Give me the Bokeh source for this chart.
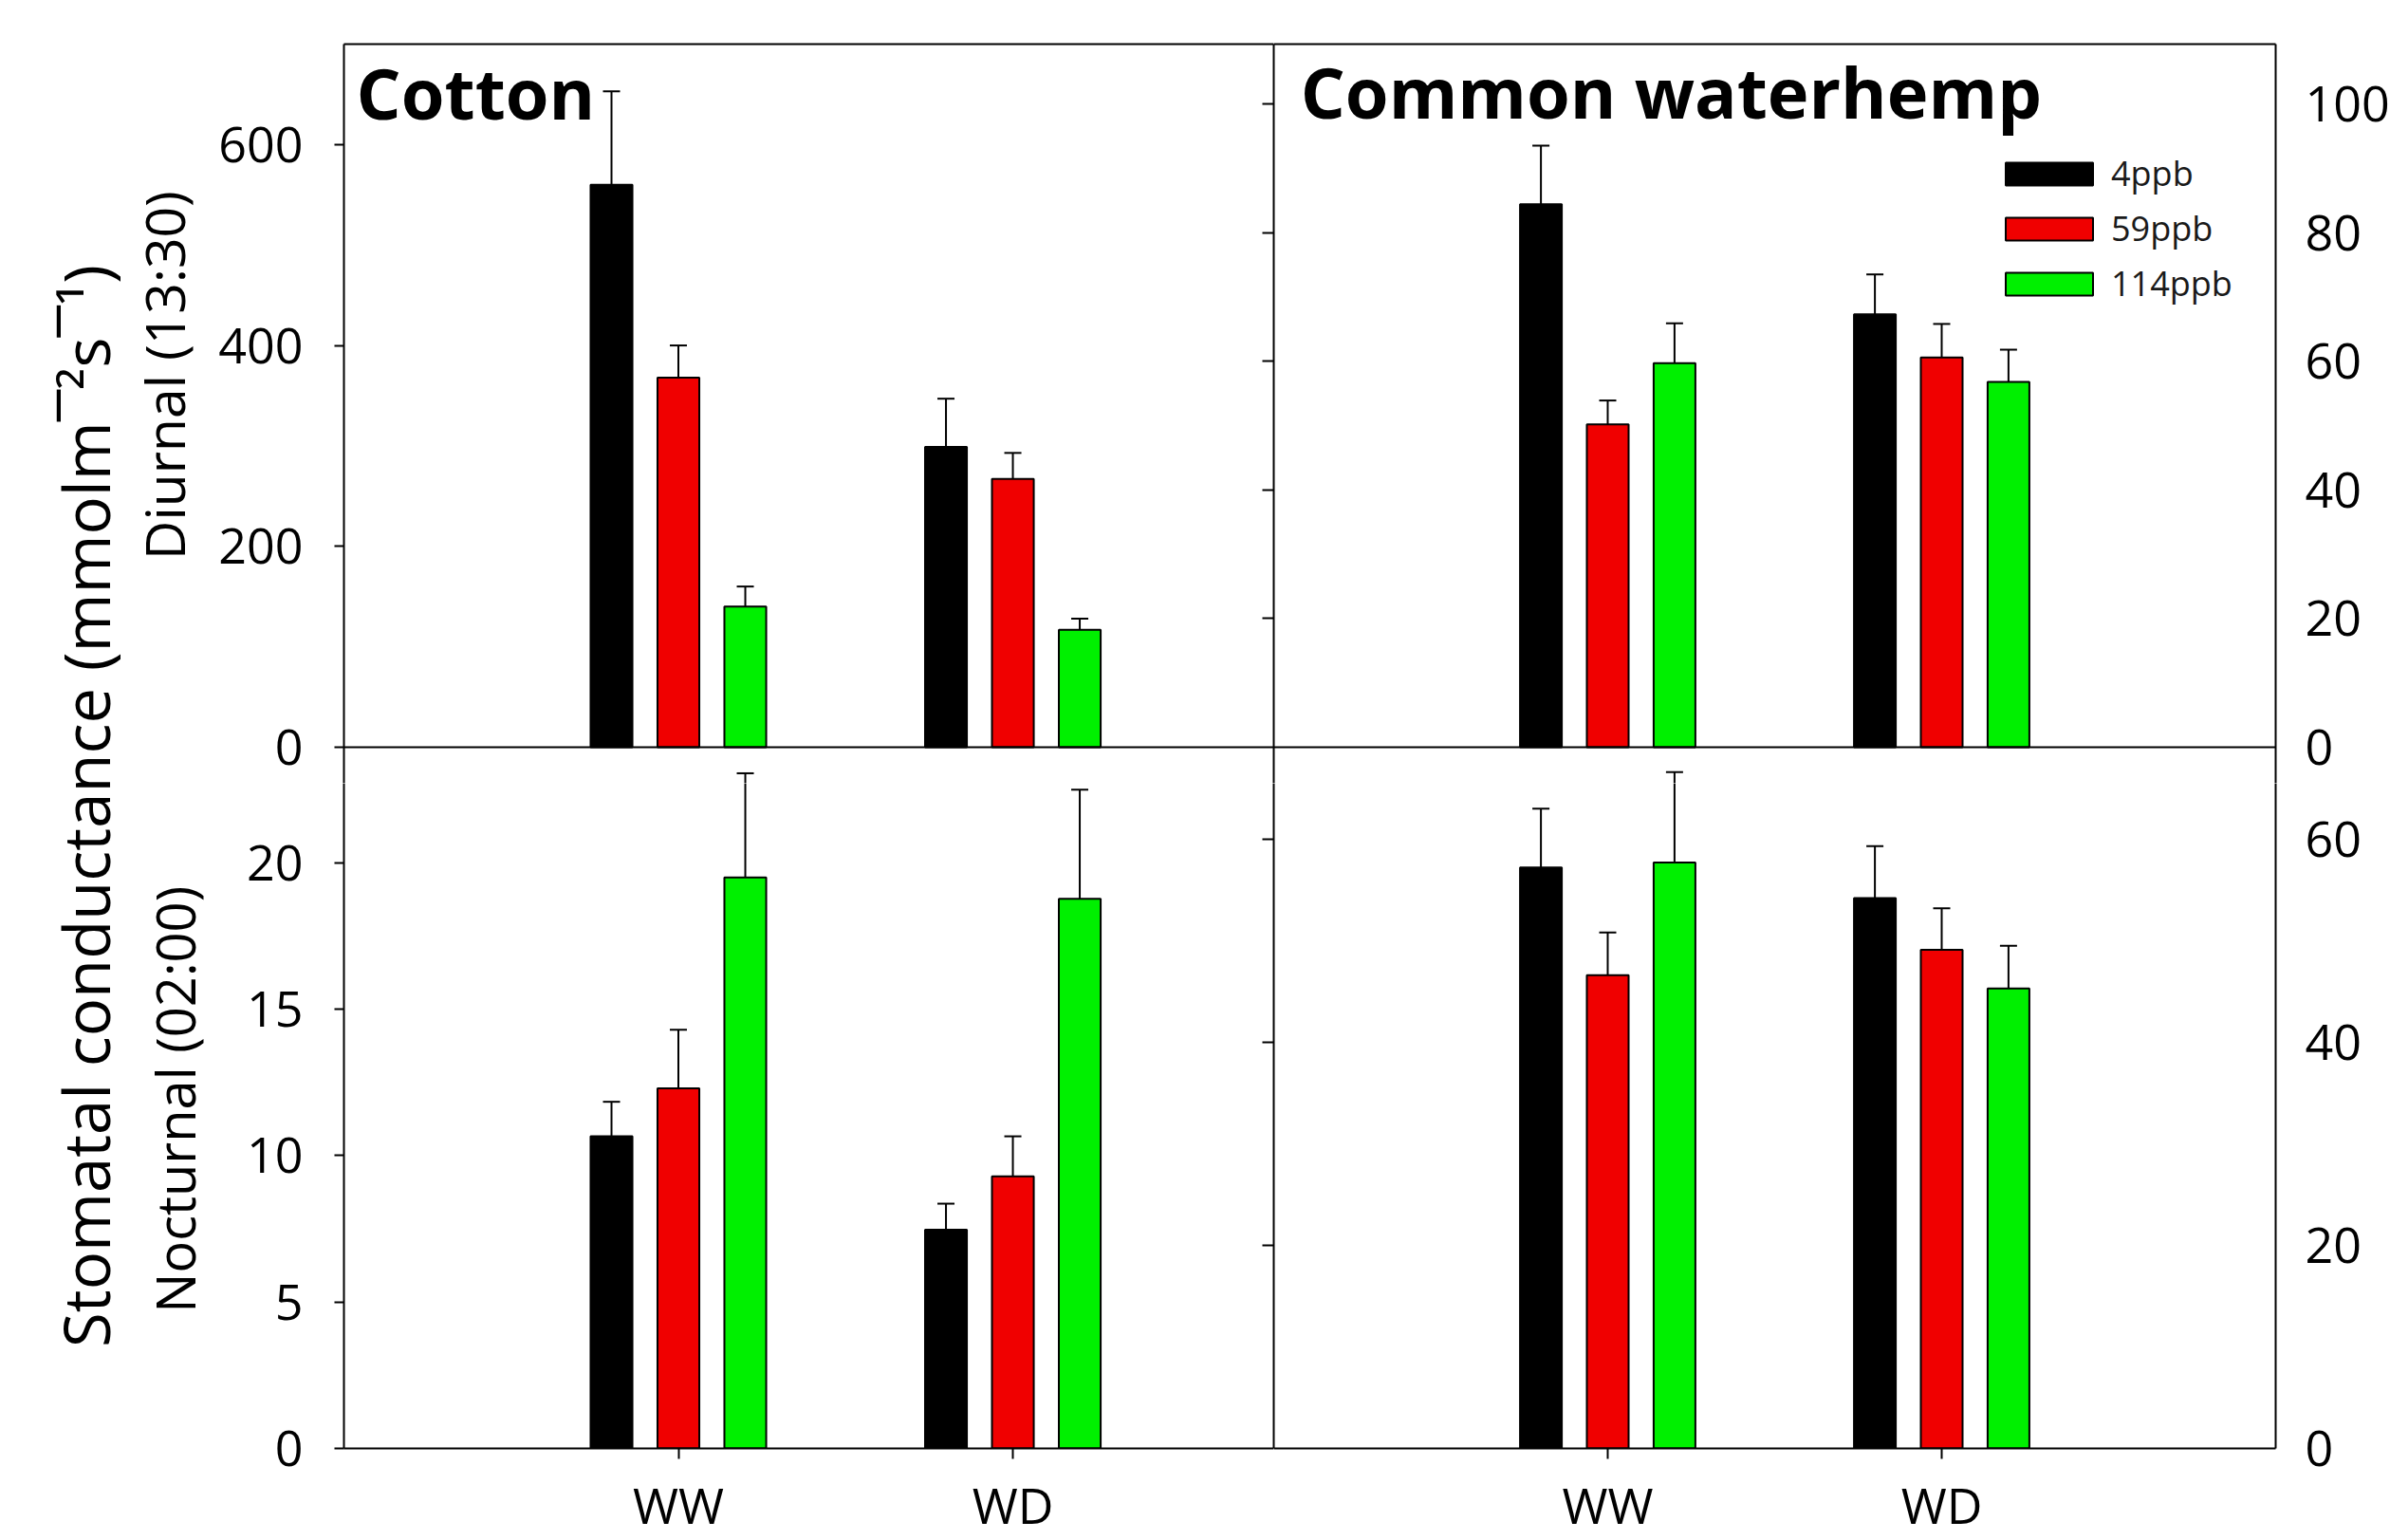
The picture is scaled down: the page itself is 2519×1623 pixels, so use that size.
import math
from bokeh.plotting import figure
from bokeh.models import (Range1d, LinearAxis, FixedTicker, Span, Whisker, TeeHead,
                          ColumnDataSource, Label, Legend, LegendItem)
from bokeh.layouts import row, column
from bokeh.embed import file_html
from bokeh.resources import INLINE

# ---------------- data ----------------
groups = ["WW", "WD"]
series_names = ["4ppb", "59ppb", "114ppb"]
series_colors = ["#000000", "#F00000", "#00F000"]

cotton_day_4 = [560, 299]
cotton_day_59 = [368, 267]
cotton_day_114 = [140, 117]
cotton_day_4_se = [93, 48]
cotton_day_59_se = [32, 26]
cotton_day_114_se = [20, 11]

hemp_day_4 = [84.4, 67.3]
hemp_day_59 = [50.2, 60.6]
hemp_day_114 = [59.7, 56.8]
hemp_day_4_se = [9.1, 6.2]
hemp_day_59_se = [3.7, 5.2]
hemp_day_114_se = [6.2, 5.0]

cotton_night_4 = [10.66, 7.47]
cotton_night_59 = [12.3, 9.29]
cotton_night_114 = [19.5, 18.77]
cotton_night_4_se = [1.18, 0.89]
cotton_night_59_se = [2.0, 1.37]
cotton_night_114_se = [3.56, 3.73]

hemp_night_4 = [57.2, 54.2]
hemp_night_59 = [46.6, 49.1]
hemp_night_114 = [57.7, 45.3]
hemp_night_4_se = [5.8, 5.1]
hemp_night_59_se = [4.2, 4.1]
hemp_night_114_se = [8.9, 4.2]

cotton_day_ticks = [0, 200, 400, 600]
cotton_night_ticks = [0, 5, 10, 15, 20]
hemp_day_ticks = [0, 20, 40, 60, 80, 100]
hemp_night_ticks = [0, 20, 40, 60]

# axis maxima (value at the top edge of each panel)
cotton_day_max = 700
hemp_day_max = 109.3
cotton_night_max = 23.95
hemp_night_max = 69.05

# ---------------- layout / style ----------------
FONT = "Open Sans"
TICK_FS = "52px"
TITLE_W = 223
LEFT_BORDER = 139
RIGHT_BORDER = 121
TOP_BORDER = 46
BOTTOM_BORDER = 97
LEFT_FRAME_W = 980
RIGHT_FRAME_W = 1056
TOP_PANEL_H = 741        # visual height of the diurnal panels
BOTTOM_PANEL_H = 739     # visual height of the nocturnal panels
EXT = 38                 # top canvases reach this far below the divider (room for the "0" labels)
TOP_FRAME_H = TOP_PANEL_H + EXT
BOTTOM_FRAME_H = BOTTOM_PANEL_H - EXT
TOTAL_H = TOP_BORDER + TOP_FRAME_H + BOTTOM_FRAME_H + BOTTOM_BORDER

group_x = [1, 2]
offsets = [-0.2, 0.0, 0.2]
BAR_W = 0.125

x_left = Range1d(0, 2.78)
x_right = Range1d(0, 3.0)


def day_range(vmax):
    k = TOP_PANEL_H / vmax
    return Range1d(-EXT / k, vmax)


def night_ranges(vmax):
    k = BOTTOM_PANEL_H / vmax
    bottom = Range1d(0, (BOTTOM_PANEL_H - EXT) / k)
    upper = Range1d((BOTTOM_PANEL_H - EXT) / k, (BOTTOM_PANEL_H + TOP_PANEL_H) / k)
    return bottom, upper


cot_day_range = day_range(cotton_day_max)
hemp_day_range = day_range(hemp_day_max)
cot_night_range, cot_night_upper = night_ranges(cotton_night_max)
hemp_night_range, hemp_night_upper = night_ranges(hemp_night_max)


def make_fig(fw, fh, bl, br, bt, bb, xr, yr):
    p = figure(frame_width=fw, frame_height=fh, min_border_left=bl, min_border_right=br,
               min_border_top=bt, min_border_bottom=bb, x_range=xr, y_range=yr,
               x_axis_location=None, y_axis_location=None, toolbar_location=None,
               output_backend="svg", outline_line_color=None)
    p.xgrid.visible = False
    p.ygrid.visible = False
    p.background_fill_color = "white"
    p.border_fill_color = "white"
    return p


def add_y_axis(p, side, ticks, range_name="default", show_labels=True,
               tick_in=0, tick_out=10, standoff=33):
    ax = LinearAxis(y_range_name=range_name, ticker=FixedTicker(ticks=ticks),
                    axis_line_color="black", axis_line_width=2,
                    major_tick_line_color="black" if (tick_in or tick_out) else None,
                    major_tick_line_width=2,
                    major_tick_in=tick_in, major_tick_out=tick_out,
                    minor_tick_line_color=None,
                    major_label_standoff=standoff,
                    major_label_text_font=FONT, major_label_text_font_size=TICK_FS,
                    major_label_text_color="black")
    if not show_labels:
        ax.major_label_overrides = {t: "" for t in ticks}
    p.add_layout(ax, side)
    return ax


def add_line_axis(p, side):
    ax = LinearAxis(ticker=FixedTicker(ticks=[]), axis_line_color="black", axis_line_width=2,
                    major_tick_line_color=None, minor_tick_line_color=None,
                    major_tick_in=0, major_tick_out=0, major_label_standoff=0,
                    major_label_text_font_size="0px")
    p.add_layout(ax, side)


def add_x_axis(p):
    ax = LinearAxis(ticker=FixedTicker(ticks=group_x),
                    major_label_overrides={g: lab for g, lab in zip(group_x, groups)},
                    axis_line_color="black", axis_line_width=2,
                    major_tick_line_color="black", major_tick_line_width=2,
                    major_tick_in=0, major_tick_out=11, minor_tick_line_color=None,
                    major_label_standoff=12,
                    major_label_text_font=FONT, major_label_text_font_size=TICK_FS,
                    major_label_text_color="black")
    p.add_layout(ax, "below")


def add_whiskers(p, vals, errs, range_name="default"):
    for i in range(3):
        xs = [g + offsets[i] for g in group_x]
        uppers = [v + e for v, e in zip(vals[i], errs[i])]
        src = ColumnDataSource(dict(x=xs, top=vals[i], upper=uppers))
        w = Whisker(source=src, base="x", lower="top", upper="upper", dimension="height",
                    y_range_name=range_name,
                    line_color="black", line_width=2,
                    upper_head=TeeHead(size=18, line_color="black", line_width=2),
                    lower_head=None)
        p.add_layout(w)


def draw_bars(p, vals, errs):
    add_whiskers(p, vals, errs)
    rends = []
    for i in range(3):
        xs = [g + offsets[i] for g in group_x]
        src = ColumnDataSource(dict(x=xs, top=vals[i]))
        r = p.vbar(x="x", top="top", bottom=0, width=BAR_W, source=src,
                   fill_color=series_colors[i], line_color="black", line_width=2)
        rends.append(r)
    return rends


def divider(p):
    p.add_layout(Span(location=0, dimension="width", line_color="black", line_width=2))


def vlabel(p, x, y, text, size):
    p.add_layout(Label(x=x, y=y, text=text, angle=math.pi / 2, text_align="center",
                       text_baseline="alphabetic", text_font=FONT,
                       text_font_size=size, text_color="black"))


# ---------------- title column ----------------
tf = figure(width=TITLE_W, height=TOTAL_H,
            x_range=Range1d(0, TITLE_W), y_range=Range1d(0, TOTAL_H),
            min_border=0, x_axis_location=None, y_axis_location=None,
            toolbar_location=None, output_backend="svg", outline_line_color=None)
tf.xgrid.visible = False
tf.ygrid.visible = False
vlabel(tf, 89, 774, "Stomatal conductance (mmolm\u00af\u00b2s\u00af\u00b9)", "67px")
vlabel(tf, 172, 1228, "Diurnal (13:30)", "57px")
vlabel(tf, 183, 472, "Nocturnal  (02:00)", "56px")

cot_night_vals = [cotton_night_4, cotton_night_59, cotton_night_114]
cot_night_errs = [cotton_night_4_se, cotton_night_59_se, cotton_night_114_se]
hemp_night_vals = [hemp_night_4, hemp_night_59, hemp_night_114]
hemp_night_errs = [hemp_night_4_se, hemp_night_59_se, hemp_night_114_se]

# ---------------- top left: cotton diurnal ----------------
tl = make_fig(LEFT_FRAME_W, TOP_FRAME_H, LEFT_BORDER, 0, TOP_BORDER, 0, x_left, cot_day_range)
tl.extra_y_ranges = {"hemp": hemp_day_range, "night": cot_night_upper}
draw_bars(tl, [cotton_day_4, cotton_day_59, cotton_day_114],
          [cotton_day_4_se, cotton_day_59_se, cotton_day_114_se])
add_whiskers(tl, cot_night_vals, cot_night_errs, "night")   # tips of the nocturnal error bars
add_y_axis(tl, "left", cotton_day_ticks)
add_y_axis(tl, "right", hemp_day_ticks[1:], "hemp", show_labels=False, tick_in=12, tick_out=0, standoff=0)
add_line_axis(tl, "above")
divider(tl)
tl.add_layout(Label(x=0.037, y=652, text="Cotton", text_font=FONT, text_font_style="bold",
                    text_font_size="74px", text_color="black", text_baseline="alphabetic"))

# ---------------- top right: waterhemp diurnal ----------------
tr = make_fig(RIGHT_FRAME_W, TOP_FRAME_H, 0, RIGHT_BORDER, TOP_BORDER, 0, x_right, hemp_day_range)
tr.extra_y_ranges = {"night": hemp_night_upper}
rends = draw_bars(tr, [hemp_day_4, hemp_day_59, hemp_day_114],
                  [hemp_day_4_se, hemp_day_59_se, hemp_day_114_se])
add_whiskers(tr, hemp_night_vals, hemp_night_errs, "night")
add_y_axis(tr, "right", hemp_day_ticks, tick_out=0, standoff=31)
add_line_axis(tr, "left")
add_line_axis(tr, "above")
divider(tr)
tr.add_layout(Label(x=0.08, y=101.9, text="Common waterhemp", text_font=FONT, text_font_style="bold",
                    text_font_size="74px", text_color="black", text_baseline="alphabetic"))
legend = Legend(items=[LegendItem(label=n, renderers=[r]) for n, r in zip(series_names, rends)],
                location=(760, 484 + EXT - 20), orientation="vertical",
                glyph_width=115, glyph_height=30, label_standoff=8, spacing=9,
                padding=0, margin=0, border_line_color=None, background_fill_alpha=0,
                label_text_font=FONT, label_text_font_size="36px", label_text_color="#1a1a1a")
tr.add_layout(legend)

# ---------------- bottom left: cotton nocturnal ----------------
bl = make_fig(LEFT_FRAME_W, BOTTOM_FRAME_H, LEFT_BORDER, 0, 0, BOTTOM_BORDER, x_left, cot_night_range)
bl.extra_y_ranges = {"hemp": hemp_night_range}
draw_bars(bl, cot_night_vals, cot_night_errs)
add_y_axis(bl, "left", cotton_night_ticks)
add_y_axis(bl, "right", hemp_night_ticks[1:], "hemp", show_labels=False, tick_in=12, tick_out=0, standoff=0)
add_x_axis(bl)

# ---------------- bottom right: waterhemp nocturnal ----------------
br = make_fig(RIGHT_FRAME_W, BOTTOM_FRAME_H, 0, RIGHT_BORDER, 0, BOTTOM_BORDER, x_right, hemp_night_range)
draw_bars(br, hemp_night_vals, hemp_night_errs)
add_y_axis(br, "right", hemp_night_ticks, tick_out=0, standoff=31)
add_line_axis(br, "left")
add_x_axis(br)

layout = row(tf, column(row(tl, tr), row(bl, br)))

open("out.html", "w").write(file_html(layout, INLINE, title="Stomatal conductance"))
